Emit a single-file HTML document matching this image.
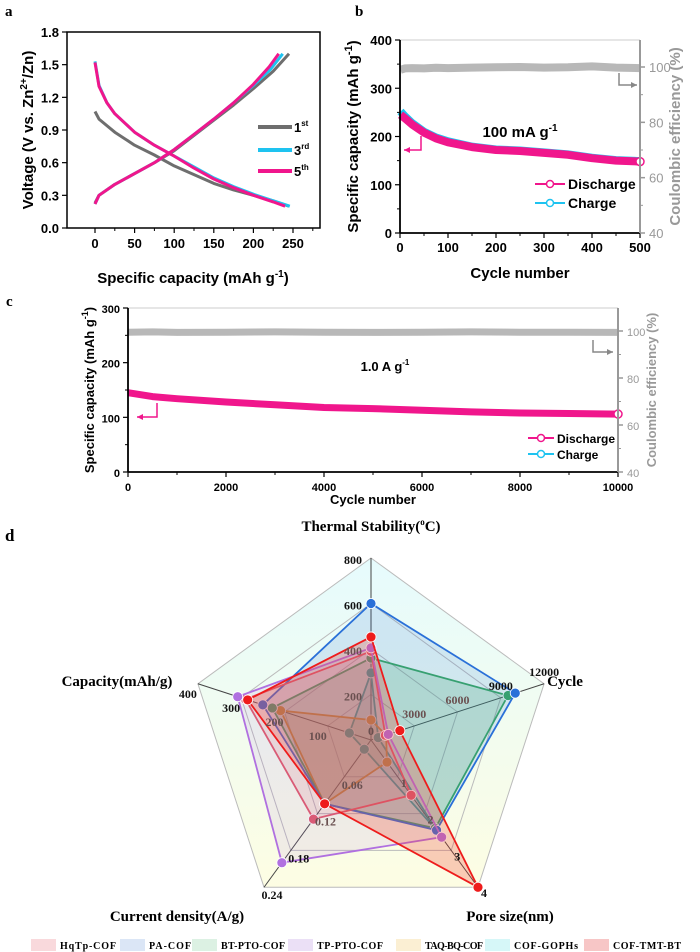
<!DOCTYPE html>
<html><head><meta charset="utf-8"><style>
html,body{margin:0;padding:0;background:#fff;}
svg{display:block;font-family:"Liberation Sans",Arial,sans-serif;}
.ser{font-family:"Liberation Serif","Times New Roman",serif;font-weight:bold;}
.b{font-weight:bold;}
</style></head><body>
<svg id="fig" width="700" height="952" viewBox="0 0 700 952" xmlns="http://www.w3.org/2000/svg">
<defs>
<linearGradient id="bgGrad" x1="0" y1="0" x2="0" y2="1">
<stop offset="0" stop-color="#e6fbfd"/><stop offset="1" stop-color="#fdfde3"/>
</linearGradient>
</defs>
<text class="ser" x="5" y="16" font-size="15">a</text>
<text class="ser" x="355" y="16" font-size="15">b</text>
<text class="ser" x="6" y="306" font-size="15">c</text>
<text class="ser" x="5" y="541" font-size="17">d</text>
<g id="pa"></g>
<g id="pb"></g>
<g id="pc"></g>
<g id="pd"></g>
<g id="leg"></g>
</svg>
<script>
// ---------- Panel a data ----------
const aDis5Cap=[0,5,15,25,50,75,100,125,150,175,200,225,240];
const aDis5V=[1.52,1.3,1.15,1.05,0.88,0.76,0.66,0.55,0.45,0.37,0.3,0.24,0.2];
const aDis3Cap=[0,5,15,25,50,75,100,125,150,175,200,225,246];
const aDis3V=[1.53,1.31,1.15,1.05,0.88,0.76,0.66,0.56,0.46,0.38,0.31,0.25,0.2];
const aDis1Cap=[0,5,25,50,75,100,125,150,175,200,225,245];
const aDis1V=[1.07,1.0,0.88,0.76,0.67,0.57,0.49,0.41,0.35,0.3,0.25,0.2];
const aCh5Cap=[0,5,25,50,75,100,125,150,175,200,220,232];
const aCh5V=[0.22,0.3,0.4,0.5,0.6,0.72,0.86,1.0,1.15,1.32,1.48,1.6];
const aCh3Cap=[0,5,25,50,75,100,125,150,175,200,222,237];
const aCh3V=[0.22,0.3,0.4,0.5,0.6,0.72,0.86,1.0,1.15,1.31,1.46,1.6];
const aCh1Cap=[0,5,25,50,75,100,125,150,175,200,225,245];
const aCh1V=[0.23,0.3,0.4,0.5,0.6,0.71,0.85,0.99,1.13,1.28,1.44,1.6];
const aXTicks=[0,50,100,150,200,250];
const aYTicks=[0.0,0.3,0.6,0.9,1.2,1.5,1.8];
// ---------- Panel b data ----------
const bCycles=[1,10,25,50,75,100,150,200,250,300,350,400,450,500];
const bDis=[245,238,225,208,196,188,178,172,170,166,162,155,150,148];
const bChg=[252,242,228,210,198,190,179,173,171,167,163,156,151,149];
const bCE=[99,99.5,99.6,99.5,99.7,99.6,99.8,99.9,100,99.8,99.9,100.2,99.8,99.6];
const bXTicks=[0,100,200,300,400,500];
const bYTicks=[0,100,200,300,400];
const bRTicks=[40,60,80,100];
// ---------- Panel c data ----------
const cCycles=[0,500,1000,2000,3000,4000,5000,6000,7000,8000,9000,10000];
const cDis=[145,138,134,128,123,118,116,113,110,108,107,106];
const cCE=[99.5,99.6,99.4,99.5,99.6,99.5,99.4,99.5,99.6,99.5,99.5,99.4];
const cXTicks=[0,2000,4000,6000,8000,10000];
const cYTicks=[0,100,200,300];
const cRTicks=[40,60,80,100];
// ---------- Panel d data ----------
const radarAxes=["Thermal Stability","Cycle","Pore size","Current density","Capacity"];
const radarMax=[800,12000,4,0.24,400];
const radarNames=["HqTp-COF","PA-COF","BT-PTO-COF","TP-PTO-COF","TAQ-BQ-COF","COF-GOPHs","COF-TMT-BT"];
const rHqTp=[390,1000,1.5,0.129,290];
const rPA=[600,10000,2.45,0.104,250];
const rBTPTO=[360,9500,2.4,0.104,228];
const rTPPTO=[405,1200,2.64,0.2,308];
const rTAQ=[88,1050,0.6,0.104,209];
const rGOPHs=[295,500,2.45,0.015,50];
const rTMT=[453,2000,4,0.104,285];
const radarTickThermal=["200","400","600","800"];
const radarTickCycle=["3000","6000","9000","12000"];
const radarTickPore=["1","2","3","4"];
const radarTickCurrent=["0.06","0.12","0.18","0.24"];
const radarTickCap=["100","200","300","400"];

const NS="http://www.w3.org/2000/svg";
function el(tag,attrs,parent){const e=document.createElementNS(NS,tag);for(const k in attrs)e.setAttribute(k,attrs[k]);parent.appendChild(e);return e;}
function txt(s,attrs,parent){const e=el('text',attrs,parent);e.textContent=s;return e;}
function lin(d0,d1,r0,r1){return v=>r0+(v-d0)/(d1-d0)*(r1-r0);}
function pathOf(xs,ys,sx,sy){return xs.map((x,i)=>(i?'L':'M')+sx(x).toFixed(1)+','+sy(ys[i]).toFixed(1)).join('');}

// ===== Panel a =====
(function(){
const g=document.getElementById('pa');
const L=67,R=320,T=32,B=228;
const sx=lin(0,250,95,293), sy=lin(0,1.8,B,T);
let r=el('rect',{x:L,y:T,width:R-L,height:B-T,fill:'none',stroke:'#000','stroke-width':1.5},g);

aXTicks.forEach(v=>{el('line',{x1:sx(v),x2:sx(v),y1:B,y2:B+5,stroke:'#000','stroke-width':1.2},g);
 el('line',{x1:sx(v+25),x2:sx(v+25),y1:B,y2:B+3,stroke:'#000'},g);
 const t=txt(v,{x:sx(v),y:B+20,'font-size':13,'text-anchor':'middle',class:'b'},g);
 });
aYTicks.forEach(v=>{el('line',{x1:L-5,x2:L,y1:sy(v),y2:sy(v),stroke:'#000','stroke-width':1.2},g);
 const t=txt(v.toFixed(1),{x:L-8,y:sy(v)+5,'font-size':13,'text-anchor':'end',class:'b'},g);
 });
let t=txt('Specific capacity (mAh g',{x:193,y:283,'font-size':15,'text-anchor':'middle',class:'b'},g);
el('tspan',{dy:-6,'font-size':10},t).textContent='-1';el('tspan',{dy:6},t).textContent=')';

t=txt('Voltage (V vs. Zn',{x:0,y:0,'font-size':15,class:'b','text-anchor':'middle',transform:'translate(33,130) rotate(-90)'},g);
el('tspan',{dy:-6,'font-size':10},t).textContent='2+';el('tspan',{dy:6},t).textContent='/Zn)';

const series=[[aDis1Cap,aDis1V,'#6e6e6e','discharge-1st'],[aCh1Cap,aCh1V,'#6e6e6e','charge-1st'],
 [aDis3Cap,aDis3V,'#1ec3f0','discharge-3rd'],[aCh3Cap,aCh3V,'#1ec3f0','charge-3rd'],
 [aDis5Cap,aDis5V,'#f0168c','discharge-5th'],[aCh5Cap,aCh5V,'#f0168c','charge-5th']];
series.forEach(s=>{const p=el('path',{d:pathOf(s[0],s[1],sx,sy),fill:'none',stroke:s[2],'stroke-width':3,'stroke-linejoin':'round'},g);
 });
[['1','st','#6e6e6e',127],['3','rd','#1ec3f0',150],['5','th','#f0168c',171]].forEach(l=>{
 const ln=el('line',{x1:258,x2:292,y1:l[3],y2:l[3],stroke:l[2],'stroke-width':4},g);
 
 const tt=txt(l[0],{x:294,y:l[3]+5,'font-size':13,class:'b'},g);el('tspan',{dy:-6,'font-size':8},tt).textContent=l[1];
 });
})();

// ===== generic cycling panel =====
function cyclePanel(gid,o){
const g=document.getElementById(gid);
const sx=lin(o.x0,o.x1,o.L,o.R), sy=lin(0,o.ymax,o.B,o.T), sr=lin(40,100,o.B,o.y100);
const ce=el('path',{d:pathOf(o.cyc2,o.ce,sx,sr),fill:'none',stroke:'#b8b8b8','stroke-width':o.band,'stroke-linejoin':'round'},g);

if(o.chg){const c=el('path',{d:pathOf(o.cyc,o.chg,sx,sy),fill:'none',stroke:'#1ec3f0','stroke-width':o.band,'stroke-linejoin':'round'},g);
 }
const d=el('path',{d:pathOf(o.cyc,o.dis,sx,sy),fill:'none',stroke:'#f0168c','stroke-width':o.band,'stroke-linejoin':'round'},g);

el('circle',{cx:sx(o.x1),cy:sy(o.dis[o.dis.length-1]),r:4,fill:'#fff',stroke:'#f0168c','stroke-width':1.5},g);
el('line',{x1:o.L,x2:o.R,y1:o.T,y2:o.T,stroke:'#ccc'},g);
let a=el('line',{x1:o.L,x2:o.L,y1:o.T,y2:o.B,stroke:'#000','stroke-width':1.8},g);

a=el('line',{x1:o.L,x2:o.R,y1:o.B,y2:o.B,stroke:'#000','stroke-width':1.8},g);

a=el('line',{x1:o.R,x2:o.R,y1:o.T,y2:o.B,stroke:'#999','stroke-width':2},g);

o.xt.forEach((v,i)=>{el('line',{x1:sx(v),x2:sx(v),y1:o.B,y2:o.B+5,stroke:'#000','stroke-width':1.2},g);
 if(i<o.xt.length-1){const m=(v+o.xt[i+1])/2;el('line',{x1:sx(m),x2:sx(m),y1:o.B,y2:o.B+3,stroke:'#000'},g);}
 const t=txt(v,{x:sx(v),y:o.B+19,'font-size':o.fs,'text-anchor':'middle',class:'b'},g);
 });
o.yt.forEach((v,i)=>{el('line',{x1:o.L-5,x2:o.L,y1:sy(v),y2:sy(v),stroke:'#000','stroke-width':1.2},g);
 if(i<o.yt.length-1){const m=(v+o.yt[i+1])/2;el('line',{x1:o.L-3,x2:o.L,y1:sy(m),y2:sy(m),stroke:'#000'},g);}
 const t=txt(v,{x:o.L-8,y:sy(v)+5,'font-size':o.fs,'text-anchor':'end',class:'b'},g);
 });
o.rt.forEach((v,i)=>{el('line',{x1:o.R,x2:o.R+5,y1:sr(v),y2:sr(v),stroke:'#999','stroke-width':1.5},g);
 if(i<o.rt.length-1){const m=(v+o.rt[i+1])/2;el('line',{x1:o.R,x2:o.R+3,y1:sr(m),y2:sr(m),stroke:'#999'},g);}
 const t=txt(v,{x:o.R+9,y:sr(v)+5,'font-size':o.fs,fill:'#999'},g);
 });
let t=txt('Cycle number',{x:(o.L+o.R)/2,y:o.B+o.xtY,'font-size':o.tfs,'text-anchor':'middle',class:'b'},g);

t=txt('Specific capacity (mAh g',{x:0,y:0,'font-size':o.tfs,class:'b','text-anchor':'middle',transform:'translate('+(o.L-o.ytX)+','+((o.T+o.B)/2)+') rotate(-90)'},g);
el('tspan',{dy:-6,'font-size':o.tfs-4},t).textContent='-1';el('tspan',{dy:6},t).textContent=')';

t=txt('Coulombic efficiency (%)',{x:0,y:0,'font-size':o.tfs,class:'b',fill:'#999','text-anchor':'middle',transform:'translate('+(o.R+o.rtX)+','+((o.T+o.B)/2)+') rotate(-90)'},g);

t=txt(o.rate,{x:o.rateX,y:o.rateY,'font-size':o.rfs,'text-anchor':'middle',class:'b'},g);
el('tspan',{dy:-6,'font-size':o.rfs-5},t).textContent='-1';

const ar1=o.arL, ar2=o.arR;
el('path',{d:'M'+ar1[0]+','+ar1[1]+'v'+ar1[2]+'h-'+ar1[3],fill:'none',stroke:'#f0168c','stroke-width':1.5},g);
el('path',{d:'M'+(ar1[0]-ar1[3])+','+(ar1[1]+ar1[2])+'l6,-3v6z',fill:'#f0168c'},g);
el('path',{d:'M'+ar2[0]+','+ar2[1]+'v'+ar2[2]+'h'+ar2[3],fill:'none',stroke:'#888','stroke-width':1.5},g);
el('path',{d:'M'+(ar2[0]+ar2[3])+','+(ar2[1]+ar2[2])+'l-6,-3v6z',fill:'#888'},g);
[['Discharge','#f0168c',0],['Charge','#1ec3f0',1]].forEach(l=>{
 const y=o.legY+l[2]*o.legDy;
 const ln=el('line',{x1:o.legX,x2:o.legX+o.legW,y1:y,y2:y,stroke:l[1],'stroke-width':2},g);
 
 el('circle',{cx:o.legX+o.legW/2,cy:y,r:3.5,fill:'#fff',stroke:l[1],'stroke-width':1.5},g);
 const tt=txt(l[0],{x:o.legX+o.legW+3,y:y+5,'font-size':o.lfs,class:'b'},g);
 });
}
cyclePanel('pb',{L:400,R:640,T:40,B:233,y100:67,x0:0,x1:500,ymax:400,
 cyc:bCycles,dis:bDis,chg:bChg,cyc2:bCycles,ce:bCE,band:8,xt:bXTicks,yt:bYTicks,rt:bRTicks,fs:13,tfs:15,
 xtY:45,ytX:42,rtX:40,rate:'100 mA g',rateX:520,rateY:137,rfs:15,arL:[421,136,14,17],arR:[619,73,12,18],
 legX:535,legY:184,legDy:19,legW:30,lfs:14});
cyclePanel('pc',{L:128,R:618,T:308,B:472,y100:331,x0:0,x1:10000,ymax:300,
 cyc:cCycles,dis:cDis,chg:null,cyc2:cCycles,ce:cCE,band:7,xt:cXTicks,yt:cYTicks,rt:cRTicks,fs:11,tfs:13,
 xtY:32,ytX:34,rtX:38,rate:'1.0 A g',rateX:385,rateY:371,rfs:13,arL:[157,403,14,20],arR:[593,340,12,20],
 legX:528,legY:438,legDy:16,legW:26,lfs:12});

// ===== Panel d radar =====
(function(){
const g=document.getElementById('pd');
const cx=371,cy=740,R=182;
const ang=[-90,-18,54,126,198].map(a=>a*Math.PI/180);
const pt=(i,f)=>[cx+R*f*Math.cos(ang[i]),cy+R*f*Math.sin(ang[i])];
const poly=f=>ang.map((a,i)=>pt(i,f).map(v=>v.toFixed(1)).join(',')).join(' ');
let p=el('polygon',{points:poly(1),fill:'url(#bgGrad)',stroke:'#bbb','stroke-width':1},g);

[0.25,0.5,0.75].forEach(f=>{const q=el('polygon',{points:poly(f),fill:'none',stroke:'#bbb','stroke-width':1},g);
 });
ang.forEach((a,i)=>{const e=pt(i,1);const l=el('line',{x1:cx,y1:cy,x2:e[0],y2:e[1],stroke:'#444','stroke-width':1},g);
 });
const series=[[rGOPHs,'#2aa8a0'],[rTAQ,'#e8901a'],[rBTPTO,'#3aa860'],[rPA,'#2a70d8'],[rHqTp,'#e05868'],[rTPPTO,'#b070e0'],[rTMT,'#ee1c1c']];
const fills={'#2aa8a0':'rgba(42,168,160,0.15)','#e8901a':'rgba(232,144,26,0.2)','#3aa860':'rgba(58,168,96,0.22)','#2a70d8':'rgba(42,112,216,0.15)','#e05868':'rgba(224,88,104,0.15)','#b070e0':'rgba(176,112,224,0.12)','#ee1c1c':'rgba(238,60,40,0.25)'};
series.forEach((s,k)=>{const pts=s[0].map((v,i)=>pt(i,v/radarMax[i]));
 const q=el('polygon',{points:pts.map(p=>p.map(v=>v.toFixed(1)).join(',')).join(' '),fill:fills[s[1]],stroke:s[1],'stroke-width':1.8},g);
 
 pts.forEach(p=>{const c=el('circle',{cx:p[0],cy:p[1],r:5,fill:s[1],stroke:'#fff','stroke-width':0.8},g);
  });});
const tickSets=[radarTickThermal,radarTickCycle,radarTickPore,radarTickCurrent,radarTickCap];
const off=[[-18,6],[0,-8],[6,10],[8,12],[-10,14]];
tickSets.forEach((ts,i)=>ts.forEach((s,j)=>{const p=pt(i,(j+1)/4);
 const t=txt(s,{x:p[0]+off[i][0],y:p[1]+off[i][1],'font-size':12,class:'ser','text-anchor':'middle',fill:j<2?'#6a5050':'#111'},g);
 }));
let t=txt('0',{x:cx,y:cy-5,'font-size':12,class:'ser','text-anchor':'middle',fill:'#6a5050'},g);
const labels=[['Thermal Stability(',cx,531,'middle'],['Cycle',565,686,'middle'],['Pore size(nm)',510,921,'middle'],['Current density(A/g)',177,921,'middle'],['Capacity(mAh/g)',117,686,'middle']];
labels.forEach((l,i)=>{const tt=txt(l[0],{x:l[1],y:l[2],'font-size':15,class:'ser','text-anchor':l[3]},g);
 if(i===0){el('tspan',{dy:-6,'font-size':9},tt).textContent='o';el('tspan',{dy:6},tt).textContent='C)';}
 });
const lg=document.getElementById('leg');
const lx=[31,120,192,288,396,485,584];
const lw=[56,42,64,66,58,64,68];
const lc=['#f9d9dc','#dbe6f6','#dcf1e3','#ebe0f6','#fbefd3','#d6f7f8','#f7c6c6'];
radarNames.forEach((n,i)=>{const r=el('rect',{x:lx[i],y:939,width:25,height:12,fill:lc[i]},lg);
 
 const tt=txt(n,{x:lx[i]+29,y:949,'font-size':10,class:'ser',textLength:lw[i],lengthAdjust:'spacing'},lg);
 });
})();
</script>
</body></html>
